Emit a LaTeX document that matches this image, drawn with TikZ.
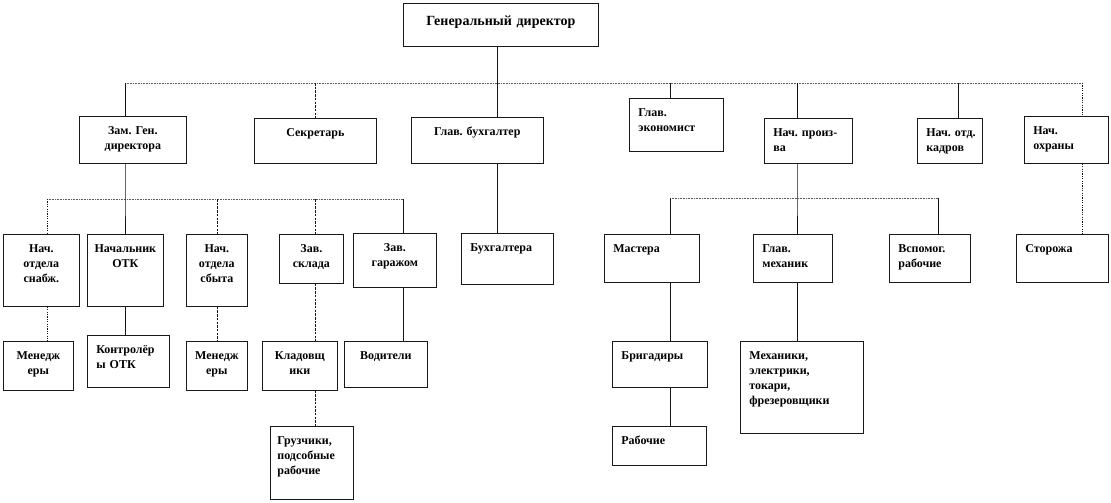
\documentclass[tikz,border=0pt]{standalone}
\usepackage{fontspec}
\setmainfont{Liberation Serif}
\usetikzlibrary{calc}
\definecolor{CLN}{RGB}{20,20,20}
\definecolor{CBUS}{RGB}{90,90,90}
\definecolor{CBOX}{RGB}{25,25,25}
\hyphenpenalty=10000
\exhyphenpenalty=10000

\begin{document}
\begin{tikzpicture}[x=1pt,y=-1pt,
  bx/.style={draw=CBOX,line width=0.7pt,anchor=north west,inner xsep=4pt,inner ysep=3pt,
    text height=15pt,align=center,font=\fontsize{12}{15}\selectfont\bfseries},
  lft/.style={align=left,inner xsep=9pt},
  sol/.style={CLN,line width=0.8pt},
  dsh/.style={CLN,line width=0.8pt,dash pattern=on 2.5pt off 1.2pt},
  dot/.style={CLN,line width=0.9pt,dash pattern=on 1.2pt off 1.2pt},
  bus/.style={CBUS,line width=0.8pt,dash pattern=on 0.8pt off 0.8pt}]
  \useasboundingbox (0,0) rectangle (1111,503);
  % top level
  \node[bx,text width=187pt,text height=19pt,text depth=18pt,font=\fontsize{14}{17}\selectfont\bfseries] (gd) at (403,3) {Генеральный директор};
  \node[bx,text width=99pt,text depth=26pt] (zam) at (79,116) {Зам.~Ген.\\директора};
  \node[bx,text width=114pt,text depth=24pt] (sek) at (254,118) {Секретарь};
  \node[bx,text width=124pt,text depth=25pt] (gb) at (411,117) {Глав.~бухгалтер};
  \node[bx,lft,text width=76pt,text depth=32pt] (ek) at (629,98) {Глав.\\экономист};
  \node[bx,lft,text width=70pt,text depth=24pt] (np) at (764,118) {Нач.~произ-\\ва};
  \node[bx,lft,text width=47pt,text depth=24pt] (ok) at (917,118) {Нач.~отд.\\кадров};
  \node[bx,lft,text width=66pt,text depth=26pt] (oh) at (1024,116) {Нач.\\охраны};
  % second level
  \node[bx,text width=68pt,text depth=51pt] (sn) at (3,234) {Нач.\\отдела\\снабж.};
  \node[bx,text width=68pt,text depth=51pt] (otk) at (87,234) {Начальник\\ОТК};
  \node[bx,text width=53pt,text depth=51pt] (sb) at (186,234) {Нач.\\отдела\\сбыта};
  \node[bx,text width=56pt,text depth=28pt] (sk) at (279,234) {Зав.\\склада};
  \node[bx,text width=75pt,text depth=33pt] (gr) at (353,233) {Зав.\\гаражом};
  \node[bx,lft,text width=74pt,text depth=30pt] (bu) at (461,233) {Бухгалтера};
  \node[bx,lft,text width=77pt,text depth=27pt] (ma) at (604,234) {Мастера};
  \node[bx,lft,text width=61pt,text depth=27pt] (gm) at (753,234) {Глав.\\механик};
  \node[bx,lft,text width=63pt,text depth=27pt] (vr) at (889,234) {Вспомог.\\рабочие};
  \node[bx,lft,text width=74pt,text depth=27pt] (st) at (1016,234) {Сторожа};
  % third level
  \node[bx,text width=62pt,text depth=28pt] (me1) at (3,341) {Менедж\\еры};
  \node[bx,lft,text width=64pt,text depth=31pt] (ko) at (87,335) {Контролёр\\ы~ОТК};
  \node[bx,text width=53pt,text depth=28pt] (me2) at (186,341) {Менедж\\еры};
  \node[bx,text width=67pt,text depth=28pt] (kl) at (262,341) {Кладовщ\\ики};
  \node[bx,text width=75pt,text depth=25pt] (vo) at (344,341) {Водители};
  \node[bx,lft,text width=77pt,text depth=25pt] (bg) at (612,341) {Бригадиры};
  \node[bx,lft,text width=105pt,text depth=71pt] (mx) at (740,341) {Механики,\\электрики,\\токари,\\фрезеровщики};
  % fourth level
  \node[bx,lft,inner xsep=7pt,text width=69pt,text depth=52pt] (gz) at (270,426) {Грузчики,\\подсобные\\рабочие};
  \node[bx,lft,text width=76pt,text depth=18pt] (rb) at (612,426) {Рабочие};
  % bus points
  \coordinate (c1) at (125,83);
  \coordinate (c2) at (315,83);
  \coordinate (c3) at (497,83);
  \coordinate (c4) at (670,83);
  \coordinate (c5) at (797,83);
  \coordinate (c6) at (958,83);
  \coordinate (c7) at (1082,83);
  \coordinate (d1) at (47,199);
  \coordinate (d2) at (125,199);
  \coordinate (d3) at (217,199);
  \coordinate (d4) at (315,199);
  \coordinate (d5) at (403,199);
  \coordinate (e1) at (670,198);
  \coordinate (e2) at (797,198);
  \coordinate (e3) at (938,198);
  % buses
  \draw[bus] (c1) -- (c7);
  \draw[bus] (d1) -- (d5);
  \draw[bus] (e1) -- (e3);
  % connectors
  \draw[sol] (c3 |- gd.south) -- (c3 |- gb.north);
  \draw[sol] (c3 |- gb.south) -- (c3 |- bu.north);
  \draw[sol] (c1) -- (c1 |- zam.north);
  \draw[sol] (c1 |- zam.south) -- (d2) -- (d2 |- otk.north);
  \draw[sol] (d2 |- otk.south) -- (d2 |- ko.north);
  \draw[dsh] (c2) -- (c2 |- sek.north);
  \draw[sol] (c4) -- (c4 |- ek.north);
  \draw[sol] (c5) -- (c5 |- np.north);
  \draw[sol] (c5 |- np.south) -- (e2) -- (e2 |- gm.north);
  \draw[sol] (e2 |- gm.south) -- (e2 |- mx.north);
  \draw[sol] (c6) -- (c6 |- ok.north);
  \draw[dot] (c7) -- (c7 |- oh.north);
  \draw[dot] (c7 |- oh.south) -- (c7 |- st.north);
  \draw[dot] (d1) -- (d1 |- sn.north);
  \draw[dot] (d1 |- sn.south) -- (d1 |- me1.north);
  \draw[dsh] (d3) -- (d3 |- sb.north);
  \draw[dsh] (d3 |- sb.south) -- (d3 |- me2.north);
  \draw[dsh] (d4) -- (d4 |- sk.north);
  \draw[dsh] (d4 |- sk.south) -- (d4 |- kl.north);
  \draw[dsh] (d4 |- kl.south) -- (d4 |- gz.north);
  \draw[sol] (d5) -- (d5 |- gr.north);
  \draw[sol] (d5 |- gr.south) -- (d5 |- vo.north);
  \draw[sol] (e1) -- (e1 |- ma.north);
  \draw[sol] (e1 |- ma.south) -- (e1 |- bg.north);
  \draw[sol] (e1 |- bg.south) -- (e1 |- rb.north);
  \draw[sol] (e3) -- (e3 |- vr.north);
\end{tikzpicture}
\end{document}
